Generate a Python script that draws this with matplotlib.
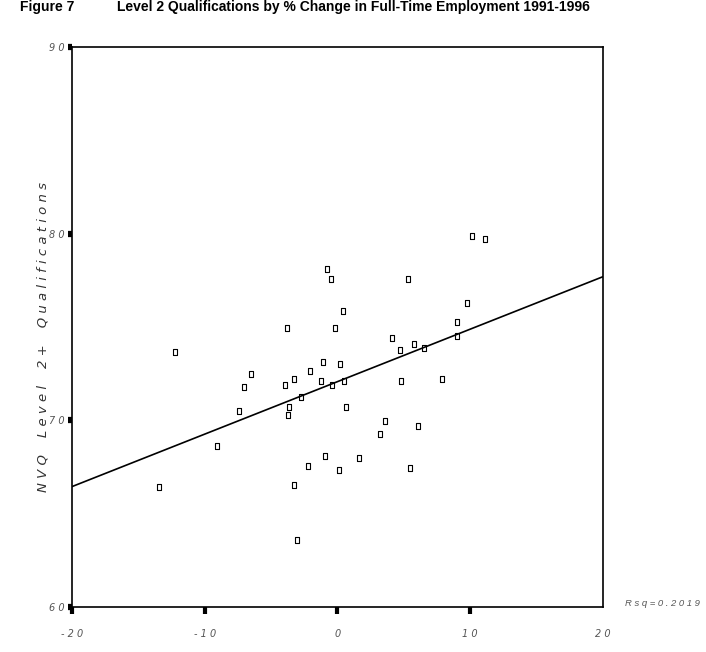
import numpy as np
import matplotlib
matplotlib.use("Agg")
import matplotlib.pyplot as plt

# % change in full-time employment 1991-1996
change = [-13.45, -12.24, -9.08, -7.42, -7.04, -6.52, -3.80, -3.95, -3.73, -3.65,
          -3.28, -3.28, -3.05, -2.75, -2.22, -2.07, -1.24, -1.09, -0.94, -0.79,
          -0.49, -0.41, -0.19, 0.11, 0.19, 0.41, 0.49, 0.64, 1.62, 3.20,
          3.58, 4.11, 4.71, 4.78, 5.31, 5.46, 5.76, 6.06, 6.52, 7.87,
          9.00, 9.00, 9.76, 10.13, 11.11]
# NVQ level 2+ qualifications
nvq2 = [66.43, 73.66, 68.63, 70.50, 71.79, 72.48, 74.95, 71.89, 70.29, 70.71,
        66.54, 72.21, 63.59, 71.25, 67.55, 72.64, 72.11, 73.12, 68.09, 78.11,
        77.57, 71.89, 74.95, 67.34, 73.02, 75.86, 72.11, 70.71, 67.98, 69.27,
        69.96, 74.41, 73.77, 72.11, 77.57, 67.45, 74.09, 69.70, 73.88, 72.21,
        74.52, 75.27, 76.29, 79.87, 79.71]

xticks = [-20, -10, 0, 10, 20]
yticks = [60, 70, 80, 90]
rsq_text = "R s q = 0 . 2 0 1 9"

def spaced(s):
    return " ".join(s)

x = np.array(change)
y = np.array(nvq2)
b, a = np.polyfit(x, y, 1)

fig = plt.figure(figsize=(7.06, 6.52), dpi=100)
ax = fig.add_axes([0.102, 0.069, 0.752, 0.859])

rect = [(-0.6, -1), (0.6, -1), (0.6, 1), (-0.6, 1), (-0.6, -1)]
ax.plot(x, y, linestyle="none", marker=rect, markersize=5, markerfacecolor="white",
        markeredgecolor="black", markeredgewidth=0.8)

xl = np.array([-20, 20])
ax.plot(xl, a + b * xl, color="black", linewidth=1.2)

ax.set_xlim(-20, 20)
ax.set_ylim(60, 90)
ax.set_xticks(xticks)
ax.set_xticklabels([spaced(str(t)) for t in xticks], fontstyle="italic",
                   fontsize=7, color="#555555")
ax.set_yticks(yticks)
ax.set_yticklabels([spaced(str(t)) for t in yticks], fontstyle="italic",
                   fontsize=7, color="#555555")
ax.tick_params(axis="x", direction="out", length=5, width=3, pad=11)
ax.tick_params(axis="y", direction="out", length=3, width=4.5, pad=2)
ax.xaxis.get_major_ticks()[-1].tick1line.set_visible(False)
for s in ax.spines.values():
    s.set_linewidth(1.2)

ax.set_ylabel("N V Q    L e v e l    2 +    Q u a l i f i c a t i o n s",
              fontstyle="italic", fontsize=9.5, color="#333333", labelpad=0,
              y=0.482)

fig.text(700 / 706, 1 - 604 / 652, rsq_text, fontstyle="italic", fontsize=6.8,
         family="Liberation Sans", color="#555555", va="center", ha="right")

fig.text(20 / 706, 1 - 7 / 652, "Figure 7", fontweight="bold", fontsize=10,
         family="Liberation Sans", va="center", ha="left")
fig.text(117 / 706, 1 - 7 / 652,
         "Level 2 Qualifications by % Change in Full-Time Employment 1991-1996",
         fontweight="bold", fontsize=10, family="Liberation Sans",
         va="center", ha="left")

fig.savefig("out.png", dpi=100)
plt.close()
